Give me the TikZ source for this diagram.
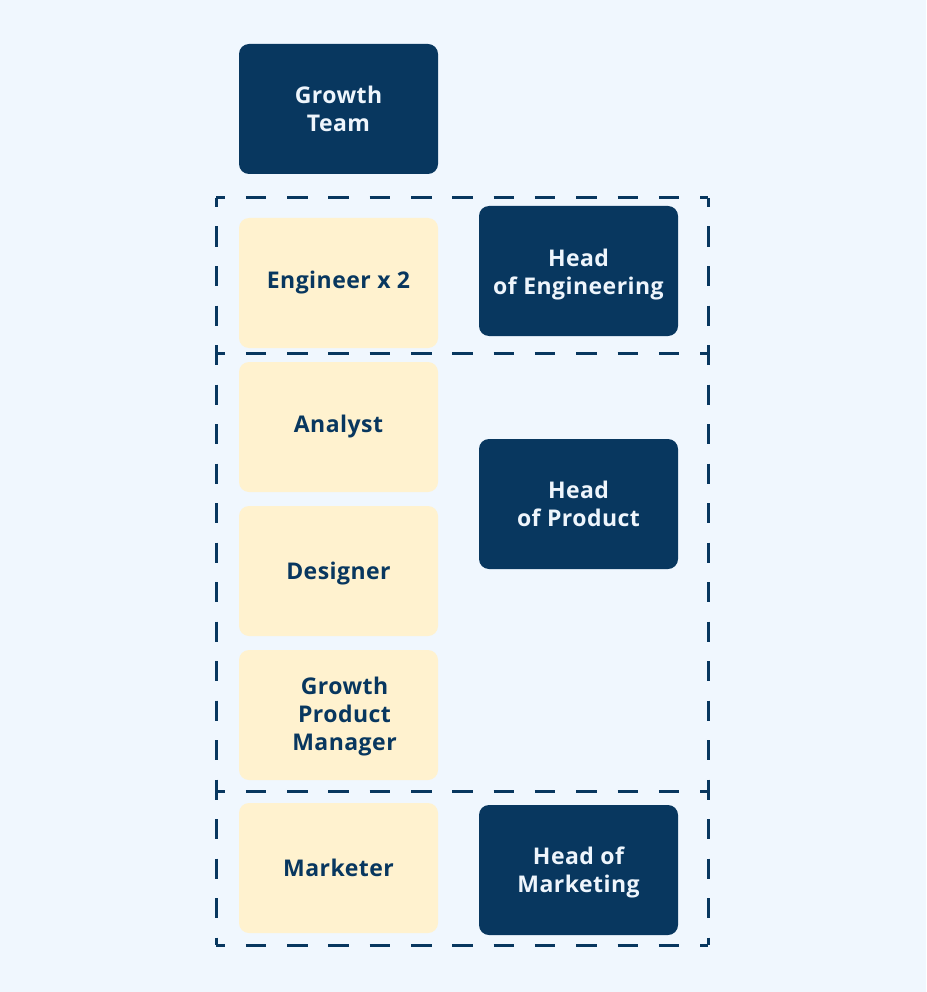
\documentclass[tikz,border=0pt]{standalone}
\usepackage{fontspec}
\setmainfont{Open Sans}[LetterSpace=2]
\usepackage{tikz}
\usetikzlibrary{positioning}

\definecolor{pozadina}{HTML}{F0F7FE}
\definecolor{tamna}{HTML}{08375F}
\definecolor{svijetla}{HTML}{FFF2CF}
\definecolor{bijela}{HTML}{EEF5FC}

% spusti redak teksta bez promjene velicine kutije
\newcommand{\spusti}[2][3pt]{\raisebox{-#1}[\height][\depth]{#2}}

\tikzset{
	kutija/.style={rounded corners=10pt, minimum width=199pt, minimum height=130pt,
		align=center, font=\fontsize{23}{28}\selectfont\bfseries, inner sep=0pt},
	voditelj/.style={kutija, fill=tamna, text=bijela},
	uloga/.style={kutija, fill=svijetla, text=tamna},
	granica/.style={tamna, line width=3pt},
	vodoravno/.style={granica, dash pattern=on 20.5pt off 20.8pt, dash phase=11.5pt},
	okomito/.style={granica, dash pattern=on 20pt off 19.5pt, dash phase=11pt}
}

\begin{document}
\begin{tikzpicture}[x=1pt, y=-1pt]
	%pozadina
	\fill[pozadina] (0, 0) rectangle (926, 992);

	%tim
	\node[voditelj] (growth) at (338.5, 109) {Growth\\Team};

	%okvir
	\coordinate (gl) at (216, 198);
	\coordinate (gd) at (708, 198);
	\coordinate (dl) at (216, 945);
	\coordinate (dd) at (708, 945);
	\draw[vodoravno] (gl) -- (gd);
	\draw[vodoravno] (dl) -- (dd);
	\draw[okomito] (gl) -- (dl);
	\draw[okomito] (gd) -- (dd);

	%pregrade
	\draw[vodoravno] (216, 353) -- (708, 353);
	\draw[vodoravno] (216, 791) -- (708, 791);

	%inzenjering
	\node[uloga] (engineer) at (338.5, 283) {Engineer x 2};
	\node[voditelj] (headeng) at (578.5, 271) {\spusti[4pt]{Head}\\\spusti[4pt]{of Engineering}};

	%proizvod
	\node[uloga] (analyst) at (338.5, 427) {Analyst};
	\node[uloga] (designer) at (338.5, 571) {\spusti{Designer}};
	\node[uloga] (gpm) at (338.5, 715) {\spusti[2pt]{\hspace*{12pt}Growth}\\\spusti[2pt]{\hspace*{12pt}Product}\\\spusti[2pt]{\hspace*{12pt}Manager}};
	\node[voditelj] (headprod) at (578.5, 504) {Head\\of Product};

	%marketing
	\node[uloga] (marketer) at (338.5, 868) {Marketer};
	\node[voditelj] (headmkt) at (578.5, 870) {\spusti[2pt]{Head of}\\\spusti[2pt]{Marketing}};

\end{tikzpicture}
\end{document}
